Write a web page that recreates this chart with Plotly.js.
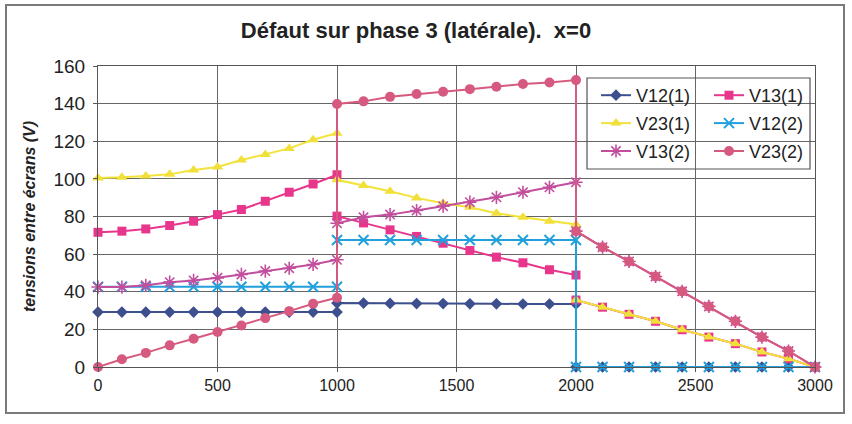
<!DOCTYPE html>
<html>
<head>
<meta charset="utf-8">
<script src="https://cdn.plot.ly/plotly-3.0.1.min.js"></script>
<style>
html,body{margin:0;padding:0;background:#fff;}
#chart{width:852px;height:424px;}
</style>
</head>
<body>
<div id="chart"></div>
<script>
// x positions of the three sections (distance)
const xSec1 = [0,100,200,300,400,500,600,700,800,900,1000];
const xSec2 = [1000,1111,1222,1333,1444,1556,1667,1778,1889,2000];
const xSec3 = [2000,2111,2222,2333,2444,2556,2667,2778,2889,3000];

// series values per section
const v12_1_s1 = [29.2,29.2,29.2,29.2,29.2,29.2,29.2,29.2,29.2,29.2,29.2];
const v12_1_s2 = [34,34,33.8,33.7,33.7,33.6,33.6,33.5,33.5,33.5];
const v12_1_s3 = [0,0,0,0,0,0,0,0,0,0];

const v13_1_s1 = [71.6,72.2,73.4,75.2,77.5,81,83.7,88.1,92.9,97.3,102.2];
const v13_1_s2 = [80.2,76.6,72.9,69.4,65.8,61.9,58.4,55.4,51.7,48.9];
const v13_1_s3 = [35.6,31.8,28,24.3,19.8,15.9,12.4,8,4.4,0];

const v23_1_s1 = [100.5,100.8,101.5,102.4,104.7,106.3,110,113,116.2,120.8,124.3];
const v23_1_s2 = [99.5,96.5,93.4,89.9,87.0,84.9,81.7,79.6,77.5,75.8];
const v23_1_s3 = [35.6,31.8,28,24.3,19.8,15.9,12.4,8,4.4,0];

const v12_2_s1 = [42.7,42.7,42.7,42.7,42.7,42.7,42.7,42.7,42.7,42.7,42.7];
const v12_2_s2 = [67.5,67.5,67.5,67.5,67.5,67.5,67.5,67.5,67.5,67.5];
const v12_2_s3 = [0,0,0,0,0,0,0,0,0,0];

const v13_2_s1 = [42.5,42.5,43.4,45.1,46,47.4,49.2,51,52.5,54.5,57];
const v13_2_s2 = [76.4,79.6,81,83.2,85.5,87.6,90.2,92.9,95.5,98.2];
const v13_2_s3 = [72.2,63.7,56.1,48.1,40.2,32.2,24.3,15.9,8.5,0];

const v23_2_s1 = [0,4.1,7.5,11.5,15,18.6,22.1,26,29.7,33.6,36.8];
const v23_2_s2 = [139.8,141.2,143.6,145.1,146.3,147.7,149,150.4,151.2,152.5];
const v23_2_s3 = [72.2,63.7,56.1,48.1,40.2,32.2,24.3,15.9,8.5,0];

const seriesNames = ['V12(1)','V13(1)','V23(1)','V12(2)','V13(2)','V23(2)'];
const xTicks = [0,500,1000,1500,2000,2500,3000];
const yTicks = [0,20,40,60,80,100,120,140,160];

const xAll = xSec1.concat(xSec2, xSec3);

function mk(name, s1, s2, s3, color, marker, legend) {
  return {
    type: 'scatter', mode: 'lines+markers', name: name,
    x: xAll, y: s1.concat(s2, s3),
    line: {color: color, width: 2},
    marker: marker,
    cliponaxis: false,
    legend: legend,
    legendgroup: name
  };
}

const traces = [
  mk(seriesNames[0], v12_1_s1, v12_1_s2, v12_1_s3, '#3d4f8e',
     {symbol: 'diamond', size: 9, color: '#3d4f8e'}, 'legend'),
  mk(seriesNames[1], v13_1_s1, v13_1_s2, v13_1_s3, '#e8368c',
     {symbol: 'square', size: 9, color: '#e8368c'}, 'legend2'),
  mk(seriesNames[2], v23_1_s1, v23_1_s2, v23_1_s3, '#f2e33a',
     {symbol: 'triangle-up', size: 10, color: '#f2e03a'}, 'legend'),
  mk(seriesNames[3], v12_2_s1, v12_2_s2, v12_2_s3, '#22a0dd',
     {symbol: 'x-thin-open', size: 10, color: '#22a0dd', line: {color: '#22a0dd', width: 2}}, 'legend2'),
  mk(seriesNames[4], v13_2_s1, v13_2_s2, v13_2_s3, '#c24f9e',
     {symbol: 'asterisk-open', size: 11, color: '#c24f9e', line: {color: '#c24f9e', width: 1.6}}, 'legend'),
  mk(seriesNames[5], v23_2_s1, v23_2_s2, v23_2_s3, '#d6597f',
     {symbol: 'circle', size: 10, color: '#d6597f'}, 'legend2')
];

const L = 98, R = 815, T = 66, B = 367;
const W = R - L, H = B - T;
function px(x){ return (x - L) / W; }
function py(y){ return (B - y) / H; }

const legendCommon = {
  bgcolor: 'rgba(0,0,0,0)', borderwidth: 0,
  font: {family: 'Liberation Sans, Arial, sans-serif', size: 18, color: '#222'},
  tracegroupgap: 1.5, xanchor: 'left', yanchor: 'top',
  orientation: 'v', itemwidth: 30
};

const layout = {
  width: 852, height: 424,
  margin: {l: L, r: 852 - R, t: T, b: 424 - B},
  paper_bgcolor: '#fff', plot_bgcolor: '#fff',
  font: {family: 'Liberation Sans, Arial, sans-serif', color: '#222'},
  title: {
    text: '<b>Défaut sur phase 3 (latérale).  x=0</b>',
    font: {family: 'Liberation Sans, Arial, sans-serif', size: 22, color: '#222'},
    x: 416/852, xanchor: 'center', xref: 'container',
    y: 1 - 30/424, yanchor: 'middle', yref: 'container'
  },
  xaxis: {
    range: [0, 3000], tickvals: xTicks, ticktext: xTicks.map(String),
    showgrid: true, gridcolor: '#666', gridwidth: 1,
    showline: true, linecolor: '#555', linewidth: 1, mirror: true,
    ticks: 'outside', ticklen: 4, tickcolor: '#555',
    zeroline: false,
    tickfont: {size: 16, color: '#222'}
  },
  yaxis: {
    range: [0, 160], tickvals: yTicks, ticktext: yTicks.map(String),
    showgrid: true, gridcolor: '#666', gridwidth: 1,
    showline: true, linecolor: '#555', linewidth: 1, mirror: true,
    ticks: 'outside', ticklen: 4, tickcolor: '#555',
    zeroline: false,
    tickfont: {size: 19, color: '#222'},
    ticklabelstandoff: 4,
    title: {
      text: '<b><i>tensions entre écrans (V)</i></b>',
      font: {size: 16, color: '#222'},
      standoff: 13
    }
  },
  legend: Object.assign({}, legendCommon, {x: px(596), y: py(77)}),
  legend2: Object.assign({}, legendCommon, {x: px(709), y: py(77)}),
  shapes: [
    {type: 'rect', xref: 'paper', yref: 'paper', layer: 'above',
     x0: px(587), x1: px(810), y0: py(169), y1: py(78),
     fillcolor: 'rgba(0,0,0,0)', line: {color: '#555', width: 1.2}},
    {type: 'rect', xref: 'paper', yref: 'paper', layer: 'below',
     x0: px(6), x1: px(844), y0: py(413), y1: py(5),
     fillcolor: 'rgba(0,0,0,0)', line: {color: '#7a7a7a', width: 2}}
  ],
  showlegend: true
};

Plotly.newPlot('chart', traces, layout, {displayModeBar: false, staticPlot: true});
</script>
</body>
</html>
